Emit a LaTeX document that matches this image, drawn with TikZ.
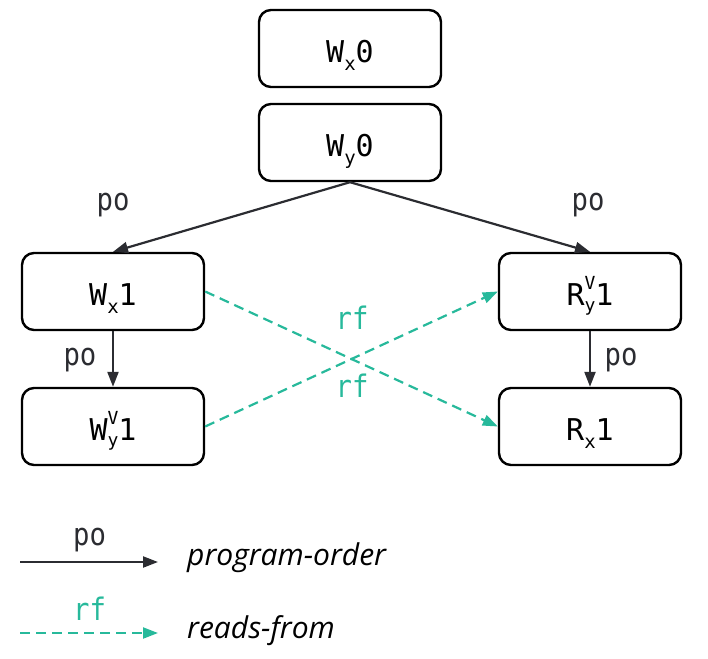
\documentclass[tikz,border=0pt]{standalone}
\usepackage{fontspec}
\setmonofont{DejaVu Sans Mono}
\newfontfamily\lblfont{DejaVu Sans Mono}[FakeStretch=0.88]
\newfontfamily\legfont{Open Sans}
\usetikzlibrary{arrows.meta}
\definecolor{tealc}{HTML}{27B99B}
\definecolor{ink}{HTML}{2B2C31}
\newcommand{\lowsc}[1]{\raisebox{-8pt}{\fontsize{19}{19}\selectfont #1}}
\newcommand{\hilosc}[2]{\makebox[0pt][l]{\raisebox{16pt}{\fontsize{18}{18}\selectfont #1}}\raisebox{-6pt}{\fontsize{18}{18}\selectfont #2}}
\begin{document}
\begin{tikzpicture}[x=1pt,y=-1pt,
  box/.style={draw=black, line width=2.4pt, rounded corners=12pt,
    minimum width=182pt, minimum height=77pt, inner sep=0pt,
    text height=28pt, text depth=0pt,
    font=\ttfamily\fontsize{30}{30}\selectfont},
  poarrow/.style={draw=ink, line width=2.2pt,
    -{Triangle[length=15pt,width=11pt]}},
  rfarrow/.style={draw=tealc, line width=2.2pt, dash pattern=on 10pt off 6pt,
    -{Triangle[length=15pt,width=11pt]}},
  lbl/.style={font=\lblfont\fontsize{31}{31}\selectfont, text=ink,
    inner sep=0pt, anchor=base},
  rflbl/.style={lbl, text=tealc},
  legtext/.style={font=\legfont\itshape\fontsize{30}{30}\selectfont,
    text=black, inner sep=0pt, anchor=base west}]
\useasboundingbox (0,0) rectangle (708,658);

\node[box] (wx0) at (350,48.5) {W\lowsc{x}0};
\node[box] (wy0) at (350,142.5) {W\lowsc{y}0};
\node[box] (wx1) at (113,291.5) {W\lowsc{x}1};
\node[box] (wy1) at (113,426.5) {W\hilosc{V}{y}1};
\node[box] (ry1) at (590,291.5) {R\hilosc{V}{y}1};
\node[box] (rx1) at (590,426.5) {R\lowsc{x}1};

\draw[poarrow] (wy0.south) -- (wx1.north);
\draw[poarrow] (wy0.south) -- (ry1.north);
\draw[poarrow] (wx1) -- (wy1);
\draw[poarrow] (ry1) -- (rx1);
\draw[rfarrow] (wx1.east) -- (rx1.west);
\draw[rfarrow] (wy1.east) -- (ry1.west);

\node[lbl] (po1) at (113,210) {po};
\node[lbl] (po2) at (588,210) {po};
\node[lbl] (po3) at (80,365) {po};
\node[lbl] (po4) at (621,365) {po};
\node[rflbl] (rf1) at (352,329) {rf};
\node[rflbl] (rf2) at (352,397) {rf};

% legend
\coordinate (la) at (20,562);
\coordinate (lb) at (158,562);
\coordinate (lc) at (20,633);
\coordinate (ld) at (158,633);
\draw[poarrow] (la) -- (lb);
\draw[rfarrow] (lc) -- (ld);
\node[lbl] (lpo) at (89.5,545) {po};
\node[rflbl] (lrf) at (89.5,620) {rf};
\node[legtext] (lt1) at (187,565) {program-order};
\node[legtext] (lt2) at (187,638) {reads-from};
\end{tikzpicture}
\end{document}
